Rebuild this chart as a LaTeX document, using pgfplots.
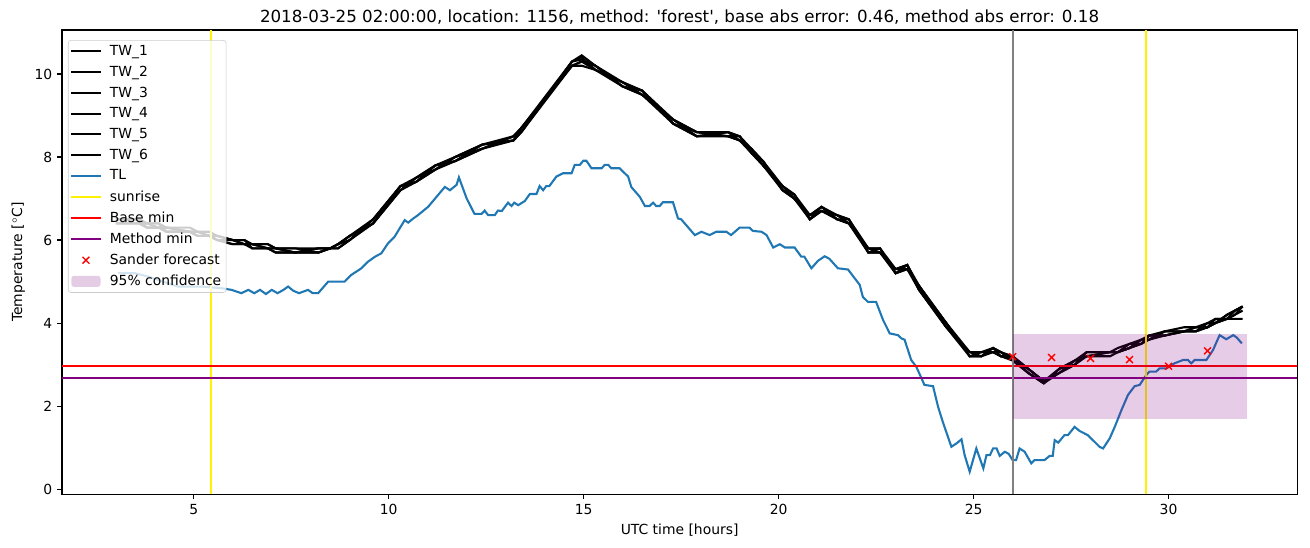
\documentclass[border=0pt]{standalone}
\usepackage{fontspec}
\setmainfont{DejaVu Sans}
\usepackage{pgfplots}
\usepackage{pgfplotstable}
\pgfplotsset{compat=1.18}

\definecolor{tlblue}{HTML}{1F77B4}
\definecolor{mpurple}{HTML}{800080}
\definecolor{legedge}{HTML}{CCCCCC}

\pgfplotsset{
  lineleg/.style={legend image code/.code={\draw[##1] (0pt,0pt) -- (21pt,0pt); \path (25pt,0pt);}},
  xleg/.style={legend image code/.code={\draw[##1, mark repeat=2, mark phase=2] plot coordinates {(0pt,0pt) (10.5pt,0pt) (21pt,0pt)}; \path (25pt,0pt);}},
  boxleg/.style={legend image code/.code={\fill[##1] (0pt,-4pt) rectangle (21pt,4pt); \path (25pt,0pt);}},
}

% water temperature sensors TW_1..TW_6
\pgfplotstableread{
t     a     b     c     d     e     f
3.0   6.5   6.4   6.5   6.4   6.5   6.4
3.6   6.5   6.4   6.5   6.4   6.5   6.4
3.8   6.4   6.4   6.3   6.3   6.4   6.3
4.1   6.4   6.3   6.3   6.3   6.4   6.3
4.3   6.3   6.2   6.2   6.3   6.2   6.3
4.9   6.3   6.2   6.2   6.2   6.2   6.2
5.1   6.2   6.1   6.2   6.1   6.2   6.1
5.4   6.2   6.1   6.1   6.1   6.1   6.1
5.6   6.1   6.0   6.1   6.0   6.1   6.0
6.0   6.0   6.0   6.0   5.9   6.0   5.9
6.3   6.0   5.9   5.9   5.9   6.0   5.9
6.5   5.9   5.9   5.8   5.9   5.8   5.9
6.9   5.9   5.8   5.8   5.8   5.8   5.9
7.1   5.8   5.8   5.7   5.8   5.7   5.8
7.6   5.8   5.7   5.7   5.8   5.7   5.7
8.2   5.8   5.8   5.7   5.7   5.8   5.7
8.5   5.8   5.8   5.8   5.8   5.8   5.8
8.7   5.9   5.9   5.8   5.9   5.8   5.9
9.0   6.1   6.0   6.0   6.1   6.0   6.1
9.6   6.5   6.4   6.5   6.4   6.5   6.4
10.3  7.3   7.3   7.2   7.2   7.3   7.2
10.7  7.4   7.5   7.4   7.5   7.4   7.5
11.2  7.8   7.7   7.7   7.8   7.7   7.8
11.7  8.0   7.9   8.0   7.9   8.0   7.9
12.4  8.3   8.3   8.2   8.2   8.3   8.2
13.2  8.4   8.5   8.4   8.5   8.4   8.5
13.4  8.7   8.6   8.6   8.7   8.6   8.7
14.7  10.3  10.2  10.3  10.2  10.3  10.2
14.95 10.45 10.3  10.4  10.3  10.35 10.2
15.3  10.2  10.2  10.1  10.1  10.2  10.1
16.0  9.7   9.8   9.7   9.8   9.7   9.8
16.5  9.6   9.5   9.5   9.6   9.5   9.6
17.3  8.9   8.8   8.9   8.8   8.9   8.8
17.9  8.6   8.6   8.5   8.5   8.6   8.5
18.7  8.5   8.6   8.5   8.6   8.5   8.6
19.0  8.5   8.4   8.4   8.5   8.4   8.5
19.3  8.2   8.1   8.2   8.1   8.2   8.1
19.6  7.9   7.9   7.8   7.8   7.9   7.8
20.1  7.2   7.3   7.2   7.3   7.2   7.3
20.4  7.1   7.0   7.0   7.1   7.0   7.1
20.8  6.6   6.5   6.6   6.5   6.6   6.5
21.1  6.8   6.8   6.7   6.7   6.8   6.7
21.5  6.5   6.6   6.5   6.6   6.5   6.6
21.8  6.5   6.4   6.4   6.5   6.4   6.5
22.3  5.8   5.7   5.8   5.7   5.8   5.7
22.6  5.8   5.8   5.7   5.7   5.8   5.7
23.0  5.2   5.3   5.2   5.3   5.2   5.3
23.3  5.4   5.3   5.3   5.4   5.3   5.4
23.6  4.9   4.8   4.9   4.8   4.9   4.8
24.3  4.0   4.0   3.9   3.9   4.0   3.9
24.9  3.2   3.3   3.2   3.3   3.2   3.3
25.2  3.3   3.2   3.2   3.3   3.2   3.3
25.5  3.4   3.3   3.4   3.3   3.4   3.3
25.7  3.3   3.3   3.2   3.2   3.3   3.2
26.0  3.1   3.2   3.1   3.2   3.1   3.2
26.4  2.9   2.8   2.8   2.9   2.8   2.9
26.8  2.6   2.55  2.55  2.6   2.55  2.6
27.2  2.9   2.8   2.9   2.8   2.9   2.8
27.6  3.1   3.1   3.0   3.0   3.1   3.0
27.9  3.2   3.3   3.2   3.3   3.2   3.3
28.5  3.3   3.3   3.2   3.3   3.3   3.3
28.7  3.3   3.3   3.3   3.4   3.3   3.3
29.0  3.4   3.5   3.4   3.5   3.4   3.4
29.3  3.6   3.5   3.5   3.6   3.5   3.6
29.5  3.7   3.7   3.6   3.6   3.7   3.6
29.9  3.7   3.8   3.7   3.8   3.7   3.8
30.4  3.8   3.8   3.8   3.9   3.8   3.8
30.7  3.9   3.8   3.8   3.9   3.8   3.9
31.0  3.9   3.9   4.0   3.9   3.9   4.0
31.2  4.0   4.0   4.0   4.1   4.0   4.1
31.5  4.2   4.1   4.1   4.1   4.2   4.1
31.7  4.3   4.2   4.3   4.2   4.3   4.1
31.9  4.4   4.4   4.4   4.3   4.4   4.1
}\tw

% air temperature TL
\pgfplotstableread{
t v
3.06 5.21
3.5 5.2
3.83 5.12
4.2 5.0
4.6 4.88
5.2 4.88
5.71 4.84
5.97 4.8
6.22 4.72
6.4 4.8
6.55 4.72
6.7 4.8
6.85 4.7
7.0 4.8
7.15 4.72
7.3 4.8
7.42 4.88
7.55 4.78
7.7 4.72
7.93 4.8
8.05 4.72
8.19 4.72
8.45 5.0
8.87 5.0
9.04 5.16
9.3 5.32
9.47 5.48
9.65 5.6
9.81 5.68
9.98 5.92
10.15 6.08
10.41 6.48
10.5 6.42
10.63 6.52
10.75 6.6
11.01 6.8
11.44 7.28
11.57 7.2
11.74 7.33
11.8 7.51
12.0 7.0
12.2 6.63
12.38 6.63
12.46 6.71
12.55 6.6
12.72 6.6
12.8 6.71
12.9 6.7
13.06 6.9
13.15 6.82
13.22 6.9
13.32 6.84
13.49 6.94
13.62 7.11
13.79 7.11
13.87 7.3
13.96 7.2
14.04 7.3
14.12 7.3
14.3 7.53
14.47 7.61
14.69 7.61
14.77 7.81
14.9 7.81
14.99 7.91
15.07 7.91
15.2 7.73
15.46 7.73
15.54 7.81
15.63 7.81
15.71 7.73
15.92 7.73
16.14 7.53
16.22 7.28
16.44 7.04
16.57 6.82
16.69 6.82
16.78 6.9
16.86 6.82
16.95 6.82
17.03 6.91
17.29 6.91
17.42 6.52
17.5 6.5
17.85 6.12
18.02 6.2
18.23 6.12
18.4 6.2
18.66 6.2
18.78 6.12
19.0 6.3
19.25 6.3
19.34 6.22
19.56 6.2
19.69 6.12
19.86 5.82
20.03 5.9
20.16 5.82
20.41 5.82
20.58 5.6
20.66 5.6
20.84 5.32
21.01 5.5
21.18 5.61
21.3 5.55
21.52 5.32
21.78 5.29
22.08 4.92
22.16 4.63
22.29 4.51
22.5 4.51
22.68 4.07
22.85 3.75
23.06 3.71
23.15 3.63
23.23 3.6
23.4 3.11
23.53 2.95
23.74 2.51
23.96 2.48
24.09 1.98
24.21 1.62
24.43 1.02
24.56 1.1
24.69 1.2
24.77 0.82
24.9 0.42
25.07 0.98
25.25 0.5
25.33 0.82
25.42 0.82
25.5 0.98
25.59 0.98
25.67 0.8
25.8 0.9
25.9 0.85
26.0 0.7
26.09 0.7
26.18 0.98
26.31 0.9
26.48 0.62
26.56 0.7
26.82 0.7
26.95 0.8
27.03 0.8
27.08 1.18
27.17 1.12
27.33 1.3
27.42 1.3
27.59 1.5
27.72 1.4
27.93 1.3
28.23 1.02
28.32 0.98
28.49 1.22
28.62 1.5
28.79 1.9
28.96 2.27
29.13 2.48
29.26 2.51
29.43 2.75
29.51 2.83
29.68 2.83
29.77 2.91
29.95 2.91
30.15 3.03
30.37 3.11
30.5 3.11
30.58 3.03
30.67 3.11
30.97 3.11
31.14 3.35
31.31 3.71
31.48 3.61
31.66 3.71
31.75 3.65
31.88 3.51
}\tl

\begin{document}
\begin{tikzpicture}
\begin{axis}[
  at={(0,0)}, anchor=south west,
  scale only axis, width=889pt, height=334pt,
  xmin=1.62, xmax=33.3, ymin=-0.12, ymax=11.06,
  xtick={5,10,...,30}, ytick={0,2,...,10},
  xtick pos=bottom, ytick pos=left,
  tick align=outside, major tick length=3.5pt,
  every tick/.style={black, line width=0.8pt},
  axis line style={line width=0.8pt},
  /pgf/number format/assume math mode=true,
  tick label style={font=\fontsize{10}{12}\selectfont},
  label style={font=\fontsize{10}{12}\selectfont},
  xlabel={UTC time [hours]},
  ylabel={Temperature [{$^\circ$}C]},
  title={2018-03-25 02:00:00, location: 1156, method: \textquotesingle forest\textquotesingle, base abs error: 0.46, method abs error: 0.18},
  title style={font=\fontsize{12}{14}\selectfont, yshift=-5.3pt},
  legend cell align=left,
  legend style={at={(0,1)}, anchor=north west, xshift=4.3pt, yshift=-7.2pt,
    font=\fontsize{10}{12}\selectfont, draw=legedge, rounded corners=2pt,
    fill=white, fill opacity=0.8, text opacity=1, row sep=2.1pt,
    inner sep=1.5pt},
  lineleg,
]
\addplot[black, line width=1.5pt] table[x=t, y=a] {\tw};
\addlegendentry{TW\_1}
\addplot[black, line width=1.5pt] table[x=t, y=b] {\tw};
\addlegendentry{TW\_2}
\addplot[black, line width=1.5pt] table[x=t, y=c] {\tw};
\addlegendentry{TW\_3}
\addplot[black, line width=1.5pt] table[x=t, y=d] {\tw};
\addlegendentry{TW\_4}
\addplot[black, line width=1.5pt] table[x=t, y=e] {\tw};
\addlegendentry{TW\_5}
\addplot[black, line width=1.5pt] table[x=t, y=f] {\tw};
\addlegendentry{TW\_6}
\addplot[tlblue, line width=1.5pt] table[x=t, y=v] {\tl};
\addlegendentry{TL}
\addplot[yellow, line width=1.5pt] coordinates {(5.45,-0.12) (5.45,11.06)};
\addlegendentry{sunrise}
\addplot[yellow, line width=1.5pt, forget plot] coordinates {(29.42,-0.12) (29.42,11.06)};
\addplot[red, line width=1.5pt] coordinates {(1.62,2.97) (33.3,2.97)};
\addlegendentry{Base min}
\addplot[mpurple, line width=1.5pt] coordinates {(1.62,2.68) (33.3,2.68)};
\addlegendentry{Method min}
\addplot[gray, line width=1.5pt, forget plot] coordinates {(26.0,-0.12) (26.0,11.06)};
\addplot[red, only marks, mark=x, mark size=3.5pt, line width=1pt, xleg]
  coordinates {(26.0,3.19) (27.0,3.17) (28.0,3.15) (29.0,3.12) (30.0,2.96) (31.0,3.33)};
\addlegendentry{Sander forecast}
\addplot[draw=none, fill=mpurple, fill opacity=0.2, boxleg]
  coordinates {(26.0,1.68) (32.0,1.68) (32.0,3.73) (26.0,3.73)} -- cycle;
\addlegendentry{95\% confidence}
\end{axis}
\pgfresetboundingbox
\path[use as bounding box] (-44.6pt,-38.3pt) rectangle (898.2pt,355.6pt);
\end{tikzpicture}
\end{document}
